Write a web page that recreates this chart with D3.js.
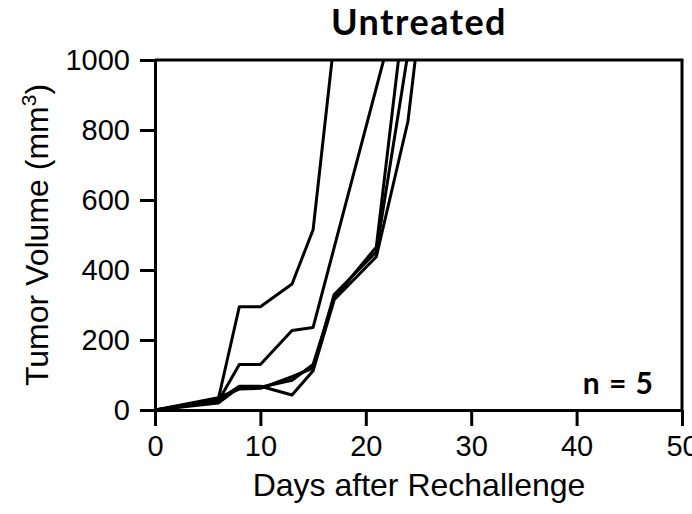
<!DOCTYPE html>
<html>
<head>
<meta charset="utf-8">
<script src="https://cdn.jsdelivr.net/npm/d3@7"></script>
<style>
body{margin:0;background:#fff;}
</style>
</head>
<body>
<svg id="graph" width="692" height="514"></svg>
<script>
const margin = {top: 60, bottom: 104, left: 155, right: 10};

// measurement days and volumes (mm3) for each mouse
const mouse1Days = [0, 6, 8, 10, 13, 15, 17];
const mouse1Vol = [0, 30, 295, 295, 360, 515, 1055];
const mouse2Days = [0, 6, 8, 10, 13, 15, 22];
const mouse2Vol = [0, 25, 130, 130, 227, 236, 1035];
const mouse3Days = [0, 6, 8, 10, 13, 15, 17, 21, 24];
const mouse3Vol = [0, 20, 65, 65, 85, 130, 320, 466, 1230];
const mouse4Days = [0, 6, 8, 10, 13, 15, 17, 21, 24];
const mouse4Vol = [0, 35, 60, 62, 95, 120, 330, 452, 1020];
const mouse5Days = [0, 6, 8, 10, 13, 15, 17, 21, 24, 25];
const mouse5Vol = [0, 28, 68, 68, 43, 112, 315, 438, 825, 1080];

const xTicks = [0, 10, 20, 30, 40, 50];
const yTicks = [0, 200, 400, 600, 800, 1000];

const series = [
	d3.zip(mouse1Days, mouse1Vol),
	d3.zip(mouse2Days, mouse2Vol),
	d3.zip(mouse3Days, mouse3Vol),
	d3.zip(mouse4Days, mouse4Vol),
	d3.zip(mouse5Days, mouse5Vol)
];

var graph = d3.select("#graph");

var x = d3.scaleLinear()
	.domain([0, 50])
	.range([margin.left, 682]);

var y = d3.scaleLinear()
	.domain([0, 1000])
	.range([410, margin.top]);

//clip lines to plot area
graph.append("clipPath")
	.attr("id", "plotClip")
	.append("rect")
		.attr("x", x(0))
		.attr("y", y(1000))
		.attr("width", x(50) - x(0))
		.attr("height", y(0) - y(1000));

//draw data lines
graph.append("g")
	.attr("clip-path", "url(#plotClip)")
	.selectAll("path")
	.data(series)
	.enter()
	.append("path")
		.attr("fill", "none")
		.attr("stroke", "#000")
		.attr("stroke-width", 3)
		.attr("stroke-linejoin", "round")
		.attr("d", d3.line()
			.x(d => x(d[0]))
			.y(d => y(d[1]))
		);

//axes
var xAxis = d3.axisBottom(x)
	.tickValues(xTicks)
	.tickFormat(d3.format("d"))
	.tickSize(16)
	.tickPadding(9)
	.tickSizeOuter(0);
var yAxis = d3.axisLeft(y)
	.tickValues(yTicks)
	.tickFormat(d3.format("d"))
	.tickSize(15)
	.tickPadding(10)
	.tickSizeOuter(0);

var gx = graph.append("g")
	.attr("transform", "translate(0," + y(0) + ")")
	.call(xAxis);
var gy = graph.append("g")
	.attr("transform", "translate(" + x(0) + ",0)")
	.call(yAxis);

[gx, gy].forEach(function(g){
	g.selectAll("path, line")
		.attr("stroke", "#000")
		.attr("stroke-width", 3);
	g.selectAll("text")
		.attr("fill", "#000")
		.style("font", "29px 'Liberation Sans', Arial, sans-serif");
});

//frame top and right
graph.append("line")
	.attr("x1", x(0)).attr("x2", x(50) + 1.5)
	.attr("y1", y(1000)).attr("y2", y(1000))
	.attr("stroke", "#000").attr("stroke-width", 3);
graph.append("line")
	.attr("x1", x(50)).attr("x2", x(50))
	.attr("y1", y(1000)).attr("y2", y(0))
	.attr("stroke", "#000").attr("stroke-width", 3);

//title
graph.append("text")
	.style("font", "bold 36px Lato, 'Open Sans', sans-serif")
	.style("letter-spacing", "1.5px")
	.style("text-anchor", "middle")
	.attr("x", 419)
	.attr("y", 35)
	.text("Untreated");

//x label
graph.append("text")
	.style("font", "32px 'Liberation Sans', Arial, sans-serif")
	.style("text-anchor", "middle")
	.attr("x", 419)
	.attr("y", 496)
	.text("Days after Rechallenge");

//y label
var yl = graph.append("text")
	.style("font", "32px 'Liberation Sans', Arial, sans-serif")
	.style("text-anchor", "middle")
	.attr("transform", "translate(48," + ((y(0) + y(1000)) / 2) + ") rotate(-90)");
yl.append("tspan").text("Tumor Volume (mm");
yl.append("tspan").attr("dy", -12).style("font-size", "21px").text("3");
yl.append("tspan").attr("dy", 12).text(")");

//n label
graph.append("text")
	.style("font", "bold 30px Lato, 'Open Sans', sans-serif")
	.style("letter-spacing", "1px")
	.style("text-anchor", "end")
	.attr("x", 654)
	.attr("y", 394)
	.text("n = 5");
</script>
</body>
</html>
